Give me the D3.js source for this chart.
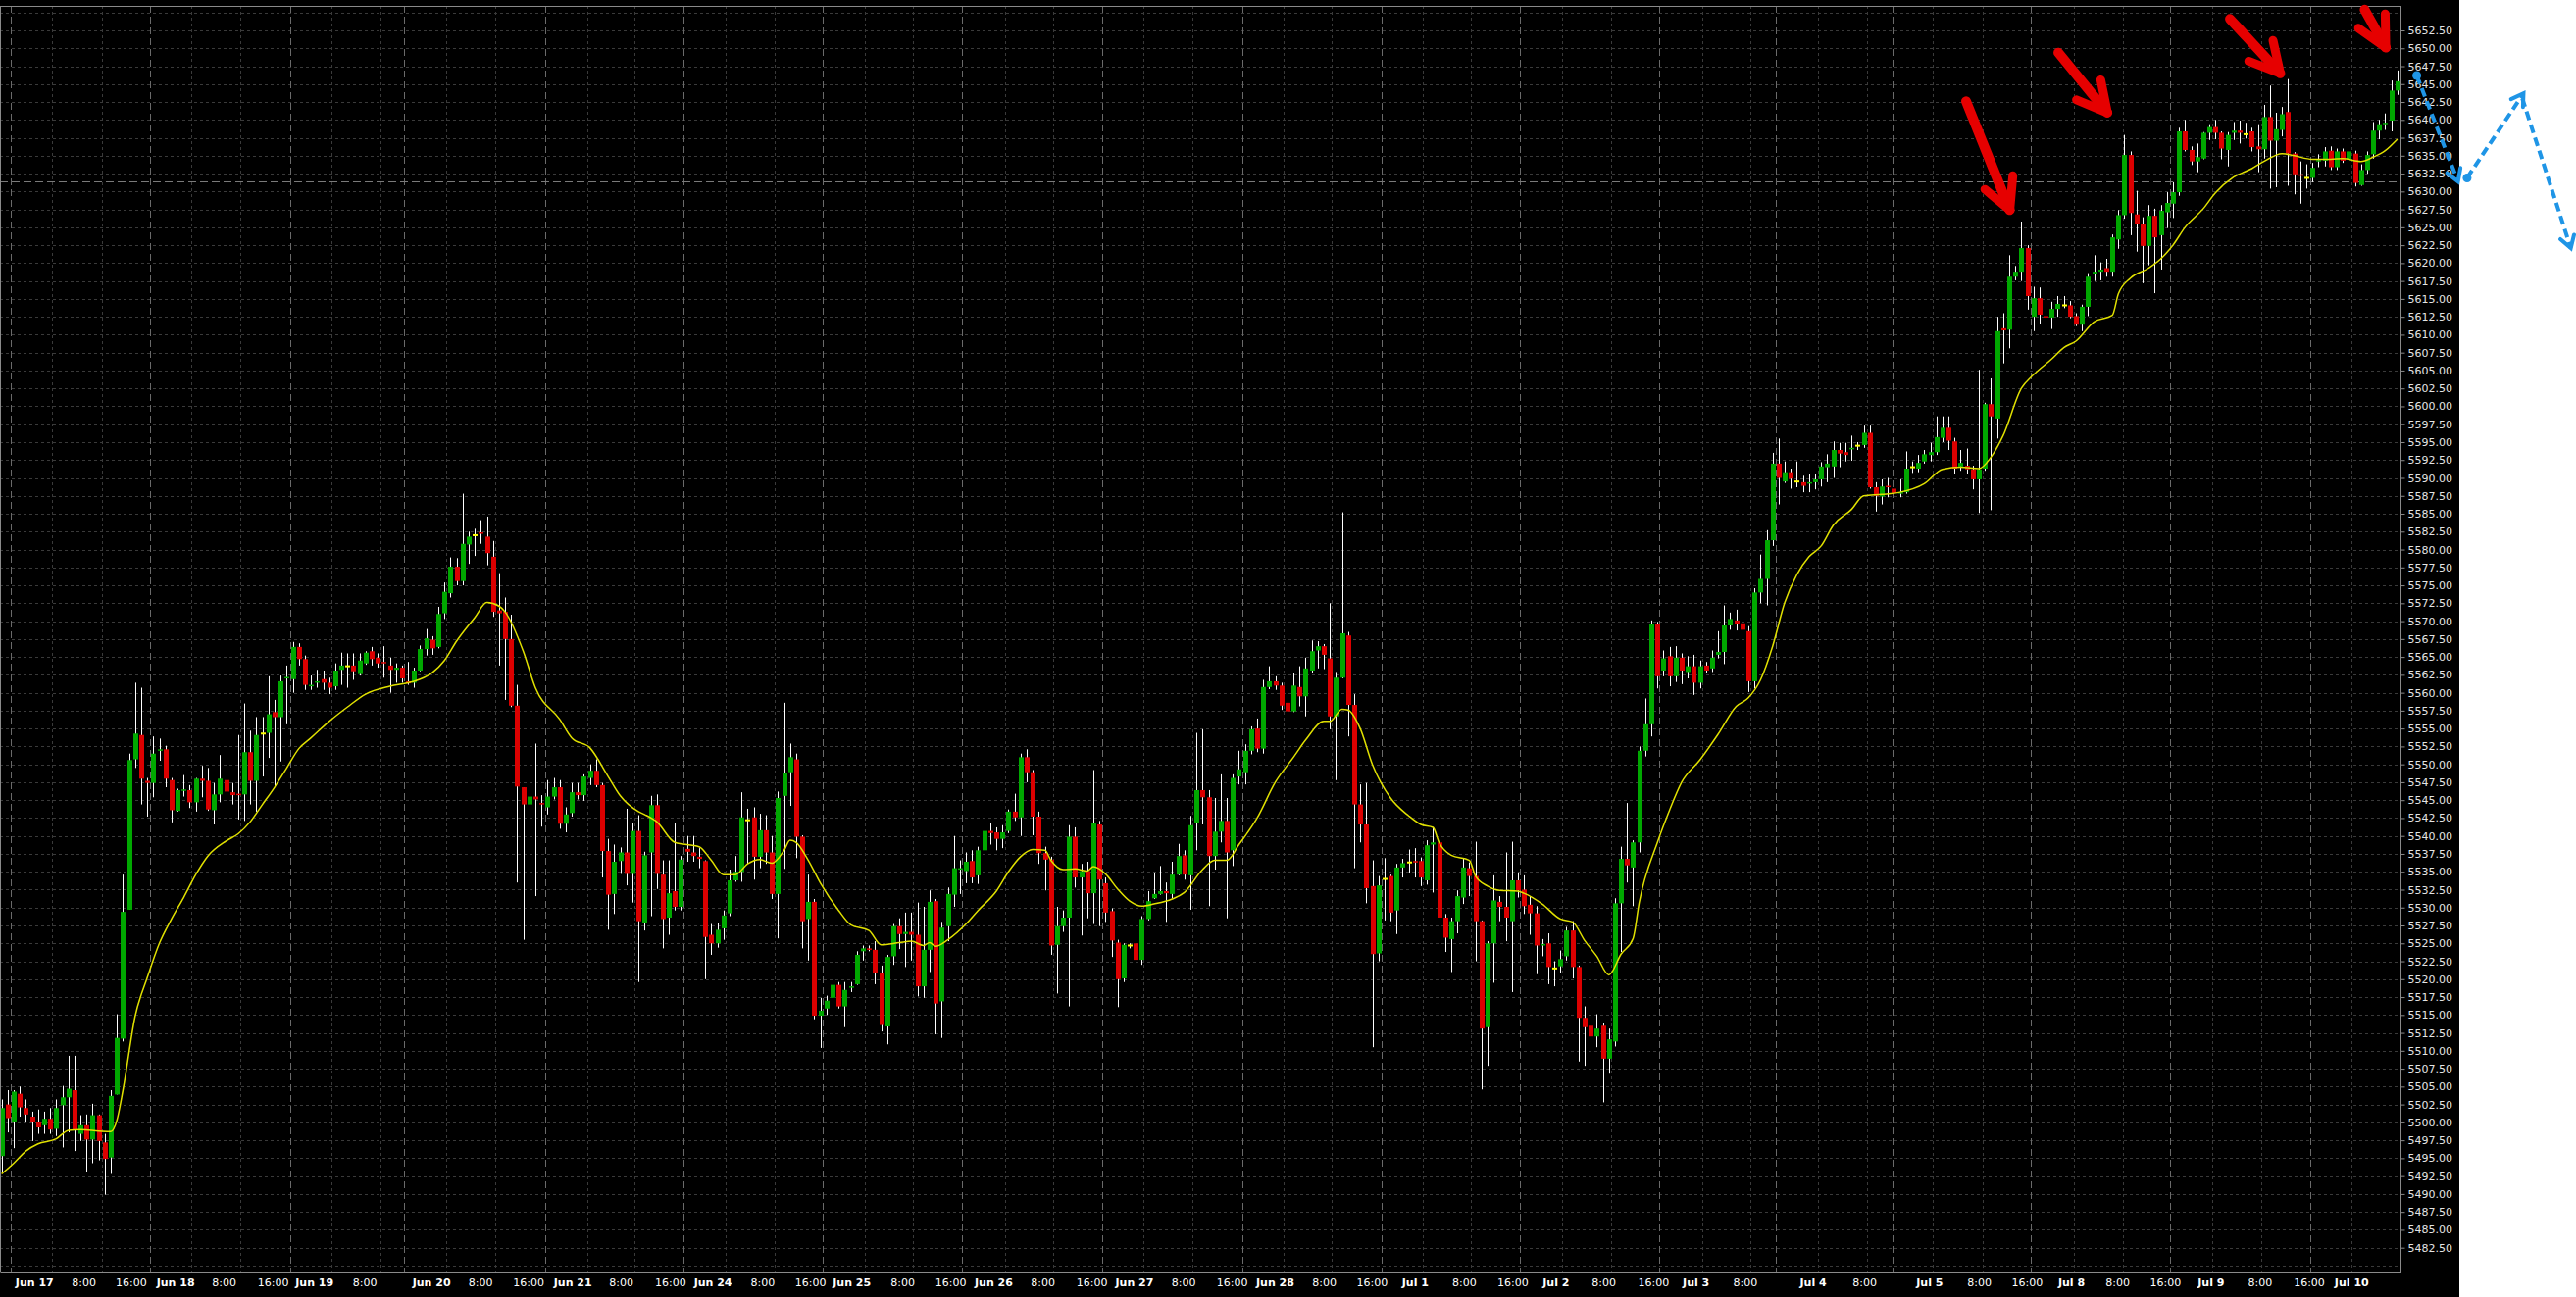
<!DOCTYPE html>
<html><head><meta charset="utf-8">
<script src="https://cdn.jsdelivr.net/npm/d3@7"></script>
<style>html,body{margin:0;padding:0;background:#fff;}svg{display:block}</style>
</head><body>
<svg id="chart" width="2627" height="1323"></svg>
<script>
// ---------- DATA (hourly candles) ----------
const openP = [
5495.3,5502.5,5500.1,5504.0,5502.0,5500.8,5500.1,5499.6,5500.5,5499.1,
5502.4,5503.5,5504.5,5498.4,5499.6,5497.6,5501.0,5497.2,5495.1,5503.9,
5511.7,5529.7,5550.7,5554.1,5547.7,5547.4,5551.9,5552.1,5547.8,5543.5,
5546.3,5546.4,5544.7,5548.0,5547.7,5543.6,5545.8,5547.8,5546.1,5545.9,
5545.8,5551.7,5547.7,5554.3,5554.4,5557.3,5556.6,5562.0,5561.9,5566.4,
5564.7,5560.9,5561.4,5561.9,5561.4,5560.9,5563.2,5563.7,5563.8,5562.6,
5564.1,5565.8,5564.9,5564.3,5563.8,5563.2,5563.5,5561.6,5561.4,5563.1,
5566.1,5567.4,5566.4,5571.1,5573.9,5577.6,5575.6,5580.7,5582.0,5582.4,
5581.8,5579.0,5571.5,5571.3,5567.5,5558.2,5546.8,5544.4,5545.5,5544.6,
5544.0,5545.5,5546.8,5541.7,5543.2,5546.1,5545.7,5548.1,5549.1,5547.1,
5537.9,
5531.9,5536.5,5537.7,5534.7,5540.7,5527.9,5537.7,5544.3,5534.6,5528.6,
5532.3,5530.1,5538.2,5537.7,5537.1,5536.5,5526.2,5525.0,5527.1,5529.2,
5533.8,5535.0,5542.2,5542.6,5537.1,5540.8,5537.7,5531.9,5545.6,5548.9,
5550.7,5539.9,5528.4,5530.8,5514.9,5515.9,5517.4,5519.2,5516.2,5518.8,
5519.3,5523.9,5524.3,5524.1,5520.8,5513.4,5523.2,5527.4,5526.3,5526.6,
5526.2,5519.0,5524.1,5530.9,5516.9,5527.4,5531.8,5535.3,5535.1,5536.5,
5534.5,5538.0,5540.7,5540.5,5539.6,5540.7,5543.4,5542.6,5551.0,5548.9,
5542.7,5537.6,5536.7,5524.8,5527.4,5528.6,5539.9,5534.2,5535.1,5532.0,
5541.6,5533.4,5529.5,5525.1,5520.1,5524.7,5525.0,5522.7,5528.4,5531.3,
5531.9,5532.3,5531.9,5534.6,5537.3,5534.5,5541.8,
5546.4,5545.4,5537.2,5540.6,5542.1,5538.0,5548.3,5548.9,5551.9,5555.0,
5552.2,5560.8,5561.6,5561.0,5558.6,5557.4,5560.8,5559.5,5563.1,5565.9,
5566.5,5564.8,5556.7,5562.1,5568.0,5558.3,5544.4,5541.6,5533.0,5523.6,
5534.0,5534.4,5529.6,5535.6,5536.3,5536.5,5536.5,5533.8,5538.8,5539.1,
5528.6,5525.6,5528.1,5531.4,5535.5,5534.4,5528.1,5513.3,5525.0,5530.8,
5530.1,5528.1,5533.8,5532.5,5530.4,5529.2,5524.7,5525.0,5521.5,5521.8,
5523.2,5526.8,5521.7,5514.6,5513.5,5512.0,5513.5,5508.9,5511.3,5530.6,
5536.8,5535.6,5539.1,5551.9,5555.6,5569.6,5563.1,5565.1,5562.3,5564.9,
5562.9,5563.7,5561.4,5563.8,5563.4,5565.3,5565.7,5569.4,5570.1,5569.7,
5568.6,5561.6,5574.0,5575.9,5581.3,5592.0,
5589.5,5590.8,5589.5,5589.4,5589.2,5589.4,5589.8,5591.5,5591.6,5593.9,
5593.6,5594.1,5594.5,5594.6,5596.3,5588.7,5587.4,5588.9,5588.5,5587.9,
5588.0,5591.5,5591.3,5592.3,5593.2,5593.6,5595.6,5597.0,5595.1,5591.6,
5591.7,5591.2,5589.8,5591.3,5600.3,5598.3,5610.9,5610.7,5618.1,5618.8,
5622.1,5612.5,5615.1,5612.6,5612.4,5613.6,5614.1,5614.1,5612.6,5611.4,
5613.9,5618.5,5618.8,5619.3,5618.8,5623.3,5626.7,5635.1,5626.8,5625.4,
5622.4,5626.6,5623.9,5627.1,5628.3,5629.9,5638.4,5635.8,5634.2,5634.6,
5638.2,5639.0,5638.2,5635.8,5638.2,5638.5,5638.0,5638.4,5636.3,5635.9,
5640.4,5637.1,5638.6,5641.1,5635.3,5632.4,5631.9,5631.9,5634.2,5634.3,
5635.7,5633.4,5635.6,5634.5,5635.3,5630.9,5633.0,5635.2,5638.5,5639.4,
5639.9,5644.1];
const highP = [
5503.2,5504.5,5504.5,5505.0,5503.2,5501.5,5501.8,5501.5,5502.0,5503.2,
5505.1,5509.3,5509.3,5501.0,5501.1,5502.6,5501.1,5498.4,5504.5,5515.1,
5534.6,5551.5,5561.4,5560.7,5548.1,5553.9,5553.6,5552.6,5548.1,5546.6,
5548.5,5547.1,5548.1,5549.8,5549.5,5547.4,5551.3,5551.2,5547.4,5554.1,
5558.5,5554.7,5556.6,5556.6,5562.3,5559.0,5562.4,5563.8,5567.1,5566.9,
5565.2,5562.4,5563.2,5563.1,5562.1,5564.1,5565.6,5565.5,5565.5,5565.5,
5565.8,5566.4,5565.5,5566.5,5564.9,5564.1,5563.8,5564.3,5563.5,5566.6,
5568.9,5567.9,5572.0,5575.4,5578.9,5578.8,5587.8,5582.5,5582.9,5584.1,
5584.6,5581.2,5576.7,5573.3,5570.9,5561.1,5546.8,5556.2,5552.9,5545.7,
5547.8,5548.1,5547.8,5544.0,5547.4,5547.4,5548.6,5550.0,5550.7,5547.4,
5539.6,
5538.8,5538.4,5543.8,5541.8,5542.9,5537.8,5545.6,5545.8,5536.6,5536.6,
5541.8,5537.2,5540.0,5540.0,5538.3,5536.6,5527.7,5527.9,5529.6,5535.3,
5537.2,5546.1,5543.8,5544.0,5543.1,5542.9,5540.0,5546.2,5558.6,5552.9,
5551.5,5540.1,5534.6,5531.2,5517.4,5517.7,5519.6,5519.6,5519.6,5519.6,
5523.9,5524.7,5524.7,5525.3,5521.9,5523.4,5527.7,5528.5,5529.3,5529.3,
5530.7,5530.1,5532.4,5531.2,5528.0,5532.8,5540.0,5536.6,5537.7,5538.0,
5538.5,5541.1,5541.8,5541.2,5541.5,5543.7,5545.9,5551.5,5552.1,5549.2,
5543.4,5538.5,5537.1,5530.1,5529.6,5541.5,5541.2,5536.1,5536.4,5549.2,
5542.1,5534.2,5529.9,5525.5,5525.0,5525.0,5525.5,5528.8,5532.3,5534.9,
5535.8,5533.5,5536.4,5538.9,5538.0,5542.8,5554.4,
5554.9,5546.4,5545.3,5548.6,5545.3,5548.6,5551.9,5552.8,5555.3,5556.4,
5561.8,5563.7,5562.3,5561.4,5559.0,5562.7,5563.7,5564.9,5567.3,5567.2,
5566.8,5572.5,5562.9,5585.2,5568.5,5559.8,5547.2,5547.4,5536.6,5534.4,
5536.9,5534.6,5536.1,5536.8,5538.1,5538.3,5537.0,5539.4,5541.2,5539.7,
5529.1,5528.6,5532.4,5536.9,5536.3,5539.2,5528.2,5525.3,5534.5,5531.6,
5537.7,5539.2,5534.9,5534.5,5531.6,5530.2,5525.6,5526.4,5522.5,5524.0,
5527.3,5528.1,5521.9,5516.2,5515.8,5515.1,5513.9,5513.1,5531.3,5538.5,
5544.6,5539.4,5552.5,5559.2,5570.1,5569.9,5565.9,5566.4,5566.5,5565.5,
5565.1,5565.3,5564.5,5564.3,5565.9,5568.6,5572.2,5571.2,5571.6,5571.4,
5569.3,5574.6,5579.3,5582.7,5593.5,5595.5,
5592.3,5591.3,5592.3,5590.3,5590.5,5590.5,5592.2,5593.3,5595.1,5594.9,
5594.9,5595.9,5595.0,5597.3,5597.3,5589.4,5589.8,5590.0,5589.7,5589.8,
5593.7,5592.3,5593.2,5593.9,5594.9,5598.6,5598.6,5598.6,5595.6,5593.9,
5594.1,5591.7,5605.1,5600.5,5603.9,5612.5,5613.0,5621.1,5619.6,5625.8,
5622.5,5616.7,5616.6,5614.2,5614.6,5615.4,5615.4,5614.7,5613.0,5614.2,
5618.6,5621.1,5620.1,5620.6,5624.0,5627.4,5637.9,5635.6,5630.1,5626.4,
5628.1,5627.6,5628.1,5629.9,5631.3,5638.9,5640.0,5636.3,5636.7,5638.3,
5639.4,5640.0,5638.4,5638.3,5639.7,5639.9,5639.6,5638.9,5639.4,5642.1,
5644.8,5641.0,5641.8,5645.7,5635.5,5634.2,5633.8,5634.0,5635.2,5636.2,
5636.3,5636.0,5636.0,5635.8,5635.7,5633.8,5635.6,5639.7,5640.0,5640.9,
5645.5,5646.9];
const lowP = [
5493.0,5498.6,5496.4,5500.8,5500.1,5497.4,5498.4,5498.4,5498.4,5498.1,
5496.5,5498.6,5496.0,5497.4,5493.1,5494.3,5494.7,5489.9,5492.8,5503.9,
5511.3,5529.7,5549.5,5544.4,5542.7,5545.4,5550.5,5546.8,5541.9,5543.4,
5545.5,5543.9,5543.4,5545.4,5543.5,5541.6,5544.7,5544.6,5544.4,5542.3,
5542.1,5544.4,5543.4,5548.3,5550.9,5546.8,5550.4,5555.6,5560.0,5563.8,
5560.4,5560.4,5560.7,5560.4,5559.8,5560.4,5561.1,5560.7,5561.8,5562.4,
5563.9,5563.8,5563.5,5562.1,5560.0,5561.4,5561.4,5561.1,5560.7,5563.0,
5565.2,5565.3,5566.2,5570.3,5573.3,5575.0,5575.0,5578.0,5579.1,5580.8,
5577.8,5570.6,5563.8,5559.0,5558.0,5533.5,5525.5,5543.4,5531.6,5541.3,
5543.0,5545.1,5541.0,5540.5,5542.7,5545.1,5544.9,5547.1,5546.8,5534.2,
5526.9,
5529.1,5534.7,5533.1,5530.7,5519.6,5526.8,5528.8,5532.6,5524.3,5526.2,
5529.6,5529.6,5536.4,5536.4,5535.5,5520.0,5523.4,5524.4,5525.5,5528.8,
5533.6,5533.6,5536.1,5533.9,5535.5,5536.1,5531.2,5525.7,5535.4,5544.2,
5536.9,5524.3,5522.6,5514.4,5510.4,5515.0,5515.9,5515.9,5513.3,5518.2,
5519.2,5522.6,5523.9,5519.3,5512.7,5510.9,5522.0,5524.2,5521.7,5522.6,
5517.6,5517.4,5521.0,5512.3,5511.8,5525.3,5530.1,5531.9,5533.4,5533.4,
5533.3,5537.4,5538.8,5538.0,5538.3,5540.4,5542.1,5540.0,5547.5,5540.1,
5536.1,5532.4,5523.4,5518.0,5526.6,5516.2,5532.8,5526.1,5528.5,5527.7,
5527.4,5528.0,5523.1,5516.1,5519.6,5524.3,5522.0,5522.0,5528.2,5531.2,
5531.8,5528.0,5531.3,5534.5,5533.9,5529.7,5538.0,
5541.6,5530.2,5535.3,5539.1,5528.5,5535.8,5547.2,5547.2,5551.4,5551.7,
5551.5,5560.5,5560.4,5557.6,5556.0,5557.3,5558.1,5556.7,5562.7,5563.4,
5563.3,5554.9,5547.8,5562.0,5553.9,5535.5,5539.1,5530.6,5510.5,5522.5,
5528.2,5528.1,5526.3,5534.2,5534.9,5534.2,5533.0,5533.2,5532.1,5525.6,
5523.8,5521.0,5526.4,5530.5,5531.6,5522.5,5504.6,5507.9,5519.5,5528.1,
5525.3,5518.2,5531.4,5529.1,5526.2,5520.7,5523.2,5519.3,5519.0,5520.9,
5522.6,5520.1,5508.5,5507.9,5509.1,5510.5,5502.8,5506.8,5510.6,5523.8,
5533.5,5530.2,5537.7,5551.1,5553.9,5560.6,5562.3,5560.9,5561.5,5561.2,
5562.0,5559.7,5560.6,5562.7,5562.9,5564.8,5564.0,5568.8,5568.7,5568.1,
5560.1,5560.6,5572.5,5572.2,5580.5,5586.3,
5589.3,5588.5,5588.7,5588.0,5588.0,5588.4,5588.8,5589.4,5590.0,5591.5,
5592.3,5592.4,5593.9,5594.2,5588.5,5585.3,5586.3,5587.3,5585.8,5587.3,
5587.8,5590.7,5590.8,5592.0,5592.3,5593.2,5595.0,5593.9,5590.5,5591.0,
5590.5,5588.4,5585.1,5591.0,5585.5,5595.5,5606.0,5608.1,5617.6,5617.5,
5613.5,5610.5,5611.5,5611.2,5610.8,5612.5,5613.7,5612.3,5611.2,5610.5,
5612.6,5617.5,5617.6,5618.1,5618.1,5622.0,5626.2,5623.9,5621.6,5617.2,
5619.7,5615.8,5619.1,5624.9,5626.3,5629.4,5635.6,5633.7,5632.7,5634.5,
5637.2,5637.3,5634.5,5633.5,5637.2,5636.7,5637.4,5635.6,5632.7,5634.6,
5630.4,5630.6,5637.7,5630.8,5629.6,5628.3,5630.4,5631.3,5633.4,5633.5,
5633.0,5633.0,5634.0,5634.2,5630.7,5630.8,5632.5,5634.6,5637.3,5638.6,
5638.4,5643.5];
const closeP = [
5502.0,5500.6,5504.3,5502.1,5501.1,5500.1,5499.3,5500.5,5499.0,5502.0,
5503.5,5504.7,5499.0,5499.6,5497.6,5501.0,5497.4,5494.9,5503.7,5511.8,
5529.4,5550.6,5554.3,5548.0,5547.4,5551.5,5552.1,5548.0,5543.6,5546.4,
5546.5,5544.7,5548.0,5547.7,5543.7,5545.8,5548.0,5546.2,5545.7,5545.7,
5551.7,5547.7,5554.1,5554.3,5557.0,5556.6,5561.6,5562.2,5566.4,5564.7,
5561.1,5561.1,5561.6,5561.4,5560.7,5563.1,5563.8,5563.7,5563.0,5564.5,
5565.6,5564.7,5564.1,5564.1,5563.2,5563.5,5562.0,5561.3,5563.1,5566.1,
5567.6,5566.2,5571.0,5574.1,5577.6,5575.6,5580.8,5581.8,5582.0,5582.2,
5579.5,5571.3,5571.1,5567.5,5558.2,5546.9,5544.4,5545.5,5545.1,5544.4,
5545.5,5546.8,5541.7,5543.0,5546.1,5545.7,5548.3,5549.1,5547.1,5537.9,
5531.8,
5536.4,5537.7,5534.7,5540.7,5528.1,5537.3,5544.3,5534.7,5528.4,5532.0,
5530.1,5536.7,5537.8,5537.2,5536.8,5525.9,5525.0,5526.9,5528.9,5533.8,
5535.0,5542.6,5542.2,5537.1,5540.8,5537.7,5531.9,5545.3,5548.8,5551.0,
5539.9,5528.1,5530.8,5514.9,5515.6,5517.0,5519.2,5516.2,5518.5,5519.0,
5523.4,5524.3,5524.1,5520.8,5513.6,5523.1,5527.4,5526.3,5526.6,5526.2,
5519.0,5524.1,5530.8,5516.6,5527.2,5531.9,5535.5,5535.5,5536.4,5534.2,
5538.0,5540.7,5540.4,5539.6,5540.5,5543.4,5542.6,5551.0,5548.9,5542.7,
5537.6,5536.7,5524.7,5527.4,5528.6,5539.9,5534.2,5535.1,5532.0,5541.8,
5533.9,5529.3,5525.4,5520.0,5524.8,5524.7,5522.7,5528.4,5530.9,5531.9,
5532.3,5532.0,5534.6,5537.2,5534.6,5541.5,5546.4,
5545.4,5537.2,5540.6,5542.1,5537.7,5548.1,5549.3,5551.9,5554.9,5552.2,
5560.8,5561.6,5561.0,5558.2,5557.4,5561.0,5559.5,5563.4,5565.8,5566.5,
5565.3,5556.7,5562.1,5568.3,5558.3,5544.4,5541.6,5532.7,5523.5,5533.1,
5534.0,5529.3,5535.6,5536.2,5536.3,5536.3,5534.2,5538.7,5539.1,5528.6,
5525.8,5528.1,5531.6,5535.6,5534.4,5528.1,5513.1,5525.0,5531.0,5530.1,
5528.6,5533.8,5532.4,5530.2,5529.2,5524.7,5524.9,5521.7,5521.5,5522.8,
5526.8,5521.7,5514.6,5513.3,5512.0,5513.1,5508.9,5511.6,5530.6,5536.8,
5535.9,5539.1,5551.9,5555.6,5569.6,5562.3,5564.8,5562.3,5564.9,5563.1,
5563.7,5561.4,5563.7,5563.1,5564.9,5565.7,5569.4,5570.3,5569.6,5568.8,
5561.6,5574.0,5575.9,5581.3,5592.0,5590.0,
5590.8,5589.9,5589.5,5588.9,5589.4,5589.8,5591.6,5592.0,5593.9,5593.4,
5593.2,5594.2,5594.5,5596.3,5588.7,5587.5,5588.8,5588.7,5587.9,5588.0,
5591.3,5591.5,5592.1,5593.3,5593.6,5595.7,5597.0,5595.2,5591.3,5592.1,
5591.2,5589.8,5591.2,5600.3,5598.6,5610.5,5610.6,5618.1,5618.8,5622.1,
5615.4,5615.1,5612.8,5612.4,5613.6,5614.3,5614.1,5612.5,5611.4,5613.9,
5618.1,5618.8,5619.1,5618.8,5623.6,5626.7,5635.1,5627.0,5625.4,5622.4,
5626.6,5623.6,5627.3,5628.4,5629.9,5638.4,5635.8,5634.2,5634.8,5638.2,
5639.0,5638.2,5636.0,5637.9,5638.5,5638.2,5638.0,5636.2,5635.9,5640.4,
5637.1,5638.7,5640.8,5635.3,5632.4,5632.2,5631.9,5633.3,5634.4,5635.6,
5633.4,5635.6,5634.3,5635.6,5631.2,5633.0,5635.1,5638.5,5639.4,5639.6,
5644.1,5645.4];

// moving average (yellow), read at sampled bars
const maBar = [0,2,4,6,9,11,13,16,18,19,20,22,24,26,28,30,32,34,37,39,41,43,45,47,49,51,54,57,60,64,67,68,71,73,75,78,80,82,83,86,88,92,94,97,100,102,105,106,108,111,115,117,119,121,123,125,127,129,130,131,133,135,138,140,143,145,148,150,152,153,154,156,159,161,164,166,168,170,172,173,175,177,179,180,182,184,186,188,190,193,195,198,200,202,204,207,210,213,215,218,219,221,222,224,226,229,232,234,236,237,239,242,243,245,247,250,251,254,257,259,261,263,265,267,269,270,273,275,277,280,283,286,288,290,292,294,296,298,300,302,305,307,310,313,317,320,323,326,328,330,333,335,338,340,342,345,348,349,351,354,356,358,360,363,365,368,371,373,376,378,381,384,386,389,391,393,395];
const maVal = [5492.8,5494.3,5496.0,5497.0,5497.7,5498.9,5499.0,5498.8,5498.7,5500.3,5504.5,5514.8,5520.2,5525.0,5528.4,5531.4,5534.6,5537.2,5539.3,5540.3,5542.0,5544.4,5546.8,5549.5,5552.2,5553.7,5556.0,5558.0,5559.8,5560.9,5561.4,5561.6,5562.8,5564.5,5567.2,5570.5,5572.6,5572.1,5571.3,5565.8,5560.7,5556.3,5553.7,5552.3,5548.3,5545.6,5543.4,5543.0,5542.0,5539.1,5538.5,5536.6,5534.6,5534.6,5536.1,5536.7,5536.2,5538.0,5539.4,5539.1,5536.6,5533.4,5529.6,5527.6,5526.8,5524.8,5525.1,5525.3,5524.7,5525.1,5524.6,5525.5,5527.7,5529.6,5532.3,5535.0,5537.1,5538.1,5538.0,5536.6,5535.3,5535.4,5535.1,5535.7,5534.7,5532.6,5530.9,5530.2,5530.5,5531.2,5532.1,5535.3,5536.6,5536.6,5538.8,5542.5,5547.5,5551.0,5553.4,5556.0,5556.0,5557.7,5557.6,5555.0,5550.0,5545.3,5542.8,5541.6,5541.2,5539.1,5537.3,5536.6,5534.4,5533.0,5532.4,5532.3,5532.0,5530.5,5528.4,5528.0,5525.4,5523.2,5520.6,5523.5,5525.7,5530.7,5539.1,5543.6,5547.5,5550.6,5554.2,5558.1,5559.3,5561.8,5566.5,5572.6,5576.5,5579.0,5580.5,5583.4,5585.6,5587.5,5587.7,5588.0,5589.2,5591.2,5591.5,5591.3,5592.9,5595.9,5602.5,5604.4,5606.6,5608.2,5609.1,5611.8,5612.7,5615.7,5617.9,5619.3,5620.6,5622.5,5625.0,5627.6,5629.8,5632.0,5633.2,5634.2,5635.3,5635.0,5634.5,5634.5,5634.6,5634.2,5634.8,5635.7,5637.3];

// time axis labels, at bar positions
const timeLabels = ["Jun 17","8:00","16:00","Jun 18","8:00","16:00","Jun 19","8:00","Jun 20","8:00","16:00","Jun 21","8:00","16:00","Jun 24","8:00","16:00","Jun 25","8:00","16:00","Jun 26","8:00","16:00","Jun 27","8:00","16:00","Jun 28","8:00","16:00","Jul 1","8:00","16:00","Jul 2","8:00","16:00","Jul 3","8:00","Jul 4","8:00","Jul 5","8:00","16:00","Jul 8","8:00","16:00","Jul 9","8:00","16:00","Jul 10"];
const timeLabelBar = [5.35,13.5,21.3,28.6,36.6,44.7,51.5,59.8,70.8,78.9,86.8,94.1,102.1,110.2,117.2,125.4,133.3,140.1,148.5,156.4,163.5,171.6,179.7,186.7,194.8,202.8,209.9,218.0,225.9,233.0,241.1,249.1,256.2,264.1,272.3,279.3,287.4,298.6,307.1,317.8,326.0,333.9,341.2,348.8,356.7,364.2,372.3,380.4,387.4];
// vertical time grid and session separators (bar positions)
const gridBar = [8.36,16.48,31.3,39.37,54.37,62.38,73.37,81.42,96.5,104.4,119.4,127.4,142.4,150.3,165.5,173.4,188.3,196.4,211.3,219.3,234.3,242.3,257.3,265.3,280.4,288.4,299.5,307.5,318.4,326.6,341.6,349.7,364.5,372.6,387.5];
const sepBar = [1.46,24.46,47.55,66.4,89.54,112.4,135.4,158.4,181.4,204.5,227.5,250.4,273.3,292.5,311.7,334.6,357.6,380.6];
// price axis
const priceMin = 5482.5, priceMax = 5652.5, priceStep = 2.5;
const refLinePrice = 5631.4;
// annotations in (bar, price)
const redArrows = [
  {tail:[323.9,5642.6], tip:[331.1,5627.4], w1:[327.0,5630.3], w2:[331.6,5632.2]},
  {tail:[339.1,5649.4], tip:[347.2,5641.0], w1:[342.1,5642.8], w2:[346.1,5645.6]},
  {tail:[367.4,5654.1], tip:[375.7,5646.5], w1:[370.5,5648.2], w2:[374.5,5651.1]},
  {tail:[389.6,5655.4], tip:[393.1,5650.1], w1:[388.6,5652.8], w2:[393.0,5654.8]}
];
const blueSegs = [
  {from:[398.2,5646.2], to:[405.0,5631.4], dot:true},
  {from:[406.5,5631.9], to:[415.8,5643.7], dot:true},
  {from:[415.6,5643.0], to:[423.6,5622.1], dot:false}
];

// ---------- DRAW ----------
const W = 2627, H = 1323;
const plotL = 0, plotR = 2448, plotT = 6, plotB = 1298, panelR = 2508;
const svg = d3.select('#chart');
const x = d3.scaleLinear().domain([0, openP.length - 1]).range([1.7, 2444.8]);
const y = d3.scaleLinear().domain([priceMin, priceMax]).range([1272.7, 31]);

svg.append('rect').attr('x',0).attr('y',0).attr('width',panelR).attr('height',H).attr('fill','#000');

svg.append('defs').append('clipPath').attr('id','plot')
  .append('rect').attr('x',plotL).attr('y',plotT).attr('width',plotR-plotL).attr('height',plotB-plotT);

const grid = svg.append('g');
const hVals = d3.range(priceMin - priceStep, priceMax + priceStep*1.5, priceStep);
grid.selectAll('line.h').data(hVals).join('line')
  .attr('x1',plotL).attr('x2',plotR)
  .attr('y1',d=>Math.round(y(d))+0.5).attr('y2',d=>Math.round(y(d))+0.5)
  .attr('stroke','#3a3a3a').attr('stroke-dasharray','3,3');
grid.selectAll('line.v').data(gridBar).join('line')
  .attr('x1',d=>Math.round(x(d))+0.5).attr('x2',d=>Math.round(x(d))+0.5)
  .attr('y1',plotT).attr('y2',plotB)
  .attr('stroke','#3a3a3a').attr('stroke-dasharray','3,3');
grid.selectAll('line.s').data(sepBar).join('line')
  .attr('x1',d=>Math.round(x(d))+0.5).attr('x2',d=>Math.round(x(d))+0.5)
  .attr('y1',plotT).attr('y2',plotB)
  .attr('stroke','#6a6a6a').attr('stroke-dasharray','7,4');

svg.append('line')
  .attr('x1',plotL).attr('x2',plotR)
  .attr('y1',Math.round(y(refLinePrice))+0.5).attr('y2',Math.round(y(refLinePrice))+0.5)
  .attr('stroke','#7a7a7a').attr('stroke-dasharray','8,4');

const plot = svg.append('g').attr('clip-path','url(#plot)');
const bars = openP.map((o,i)=>({i,o,h:highP[i],l:lowP[i],c:closeP[i]}));
plot.selectAll('line.wick').data(bars).join('line')
  .attr('x1',d=>Math.round(x(d.i))+0.5).attr('x2',d=>Math.round(x(d.i))+0.5)
  .attr('y1',d=>y(d.h)).attr('y2',d=>y(d.l))
  .attr('stroke','#ffffff').attr('stroke-width',1);
plot.selectAll('rect.body').data(bars).join('rect')
  .attr('x',d=>Math.round(x(d.i))-2)
  .attr('width',5)
  .attr('y',d=> d.o===d.c ? y(d.o)-1 : y(Math.max(d.o,d.c)))
  .attr('height',d=> d.o===d.c ? 2 : Math.max(1.5, Math.abs(y(d.o)-y(d.c))))
  .attr('fill',d=> d.c>d.o ? '#00a800' : (d.c<d.o ? '#dc0000' : '#ffff00'));

const ma = maBar.map((b,k)=>[b, maVal[k]]);
plot.append('path').datum(ma)
  .attr('d', d3.line().x(d=>x(d[0])).y(d=>y(d[1])).curve(d3.curveMonotoneX))
  .attr('fill','none').attr('stroke','#e0e000').attr('stroke-width',1.5);

// frame
const frame = svg.append('g').attr('stroke','#8a8a8a').attr('stroke-width',1);
frame.append('line').attr('x1',0.5).attr('x2',plotR+0.5).attr('y1',plotT+0.5).attr('y2',plotT+0.5);
frame.append('line').attr('x1',plotR+0.5).attr('x2',plotR+0.5).attr('y1',plotT).attr('y2',plotB+1);
frame.append('line').attr('x1',0.5).attr('x2',plotR+0.5).attr('y1',plotB+0.5).attr('y2',plotB+0.5);
frame.append('line').attr('x1',0.5).attr('x2',0.5).attr('y1',plotT).attr('y2',plotB);

// price axis
const yTicks = d3.range(priceMin, priceMax + priceStep/2, priceStep);
const yAxis = svg.append('g').attr('transform',`translate(${plotR+0.5},0)`)
  .call(d3.axisRight(y).tickValues(yTicks).tickSize(4).tickPadding(3).tickFormat(d3.format('.2f')));
yAxis.select('.domain').remove();
yAxis.selectAll('line').attr('stroke','#8a8a8a');
yAxis.selectAll('text').attr('fill','#e4e4e4').style('font-family','"DejaVu Sans", Verdana, sans-serif').style('font-size','11px');

// time axis
const xAxis = svg.append('g').attr('transform',`translate(0,${plotB})`)
  .call(d3.axisBottom(x).tickValues(timeLabelBar).tickSize(0).tickPadding(6).tickFormat((d,i)=>timeLabels[i]));
xAxis.select('.domain').remove();
xAxis.selectAll('text').attr('fill','#ffffff')
  .style('font-family','"DejaVu Sans", Verdana, sans-serif').style('font-size','11px')
  .style('font-weight',(d,i)=>/^[A-Z]/.test(timeLabels[i]) ? 'bold' : 'normal');

// red arrows
const px = p => [x(p[0]), y(p[1])];
const red = svg.append('g').attr('stroke','#e60000').attr('fill','none')
  .attr('stroke-linecap','round').attr('stroke-linejoin','round');
redArrows.forEach(a=>{
  red.append('path').attr('stroke-width',10)
    .attr('d', d3.line()([px(a.tail), px(a.tip)]));
  red.append('path').attr('stroke-width',9)
    .attr('d', d3.line()([px(a.w1), px(a.tip), px(a.w2)]));
});

// blue dashed arrows
const blue = svg.append('g').attr('stroke','#1f95e6').attr('fill','none');
blueSegs.forEach(s=>{
  const [x1,y1] = px(s.from), [x2,y2] = px(s.to);
  blue.append('path').attr('stroke-width',4).attr('stroke-dasharray','9,5')
    .attr('d', d3.line()([[x1,y1],[x2,y2]]));
  const ang = Math.atan2(y2-y1, x2-x1), L = 14, spread = 0.55;
  const h1 = [x2 - L*Math.cos(ang-spread), y2 - L*Math.sin(ang-spread)];
  const h2 = [x2 - L*Math.cos(ang+spread), y2 - L*Math.sin(ang+spread)];
  blue.append('path').attr('stroke-width',4).attr('stroke-linecap','round')
    .attr('d', d3.line()([h1,[x2,y2],h2]));
  if (s.dot) blue.append('circle').attr('cx',x1).attr('cy',y1).attr('r',4.5).attr('fill','#1f95e6').attr('stroke','none');
});
</script>
</body></html>
